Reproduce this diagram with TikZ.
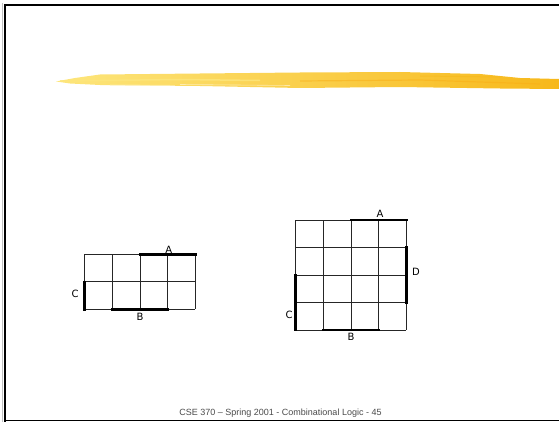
\documentclass[tikz,border=0pt]{standalone}
\usepackage{fontspec}
\setmainfont{DejaVu Sans}
\newfontfamily\footfont{Liberation Sans}
\usetikzlibrary{positioning}
\definecolor{brushpale}{HTML}{FDE67C}
\definecolor{brushmid}{HTML}{FAD034}
\definecolor{brushdeep}{HTML}{F7B81A}
\definecolor{footgray}{HTML}{4A4A4A}
\tikzset{
  cellgrid/.style={draw=black!85,line width=.7pt},
  midline/.style={draw=black!85,line width=.95pt},
  varbar/.style={draw=black,line width=2.5pt,line cap=rect},
  varlabel/.style={font=\fontsize{10}{11}\selectfont,inner sep=0pt,text height=7.5pt,text depth=0pt},
  frame/.style={draw=black,line width=2.2pt}}

\begin{document}
\begin{tikzpicture}[x=1pt,y=-1pt]
\useasboundingbox (0,0) rectangle (559,422);
% slide frame
\draw[black!25,line width=1pt] (2,3) -- (2,422);
\draw[frame] (5.2,422) -- (5.2,5.2) -- (559,5.2);
\draw[black,line width=1.2pt] (5,420.8) -- (559,420.8);
% title brush stroke
\shade[left color=brushpale,middle color=brushmid,right color=brushdeep]
  (56,81.5) -- (75,78) -- (100,74.5) -- (200,73.5) -- (300,72.5) -- (400,72)
  -- (480,74) -- (520,78) -- (559,79) -- (559,89) -- (500,88.5) -- (400,87)
  -- (300,88) -- (200,86) -- (100,85) -- (70,83.5) -- cycle;
\draw[brushpale,line width=1.5pt,opacity=.8] (60,81) -- (180,79.5) -- (260,80.5);
\draw[brushdeep!80!orange,line width=1.2pt,opacity=.5] (300,81) -- (420,80) -- (540,84);
\draw[white,line width=.6pt,opacity=.5] (180,84.5) -- (290,85.5);
\draw[brushpale!60!white,line width=1pt,opacity=.7] (110,85) -- (170,85.5);
\draw[brushdeep,line width=1pt,opacity=.6] (420,76) -- (500,77);
% three-variable map
\begin{scope}[shift={(84.7,254.3)},x=27.65pt,y=-27.5pt]
\foreach \i in {0,...,4} \draw[cellgrid] (\i,0) -- (\i,2);
\foreach \j in {0,...,2} \draw[cellgrid] (0,\j) -- (4,\j);
\draw[midline] (2,0) -- (2,2) (0,1) -- (4,1);
\draw[varbar] (2,0) -- (4,0);
\draw[varbar] (0,1) -- (0,2);
\draw[varbar] (1,2) -- (3,2);
\end{scope}
\node[varlabel] (smallA) at (168.7,249.7) {A};
\node[varlabel] (smallC) at (75,294) {C};
\node[varlabel] (smallB) at (140,316.7) {B};
% four-variable map
\begin{scope}[shift={(295.7,220)},x=27.65pt,y=-27.5pt]
\foreach \i in {0,...,4} \draw[cellgrid] (\i,0) -- (\i,4);
\foreach \j in {0,...,4} \draw[cellgrid] (0,\j) -- (4,\j);
\draw[midline] (2,0) -- (2,4) (0,2) -- (4,2);
\draw[varbar] (2,0) -- (4,0);
\draw[varbar] (4,1) -- (4,3);
\draw[varbar] (0,2) -- (0,4);
\draw[varbar] (1,4) -- (3,4);
\end{scope}
\node[varlabel] (bigA) at (380,214) {A};
\node[varlabel] (bigD) at (416,272) {D};
\node[varlabel] (bigC) at (289,315) {C};
\node[varlabel] (bigB) at (351,336.7) {B};
% footer
\node[font=\footfont\fontsize{9}{10}\selectfont,text=footgray,inner sep=0pt] (footer) at (280.5,413) {CSE 370 – Spring 2001 - Combinational Logic - 45};
\end{tikzpicture}
\end{document}
